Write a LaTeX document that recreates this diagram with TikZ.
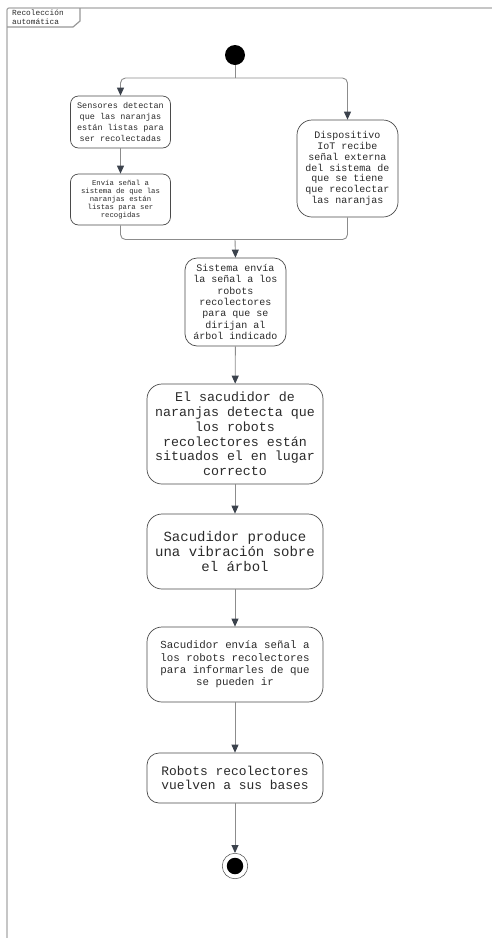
\documentclass[tikz,border=0pt]{standalone}
\usepackage{fontspec}
\newfontfamily\mono{Liberation Mono}
\usetikzlibrary{arrows.meta}
\definecolor{boxc}{HTML}{4A4A4A}
\definecolor{connc}{HTML}{8C8C8C}
\definecolor{tipc}{HTML}{3B424C}
\definecolor{framec}{HTML}{A8A8A8}
\definecolor{txtc}{HTML}{2A2A2A}
\newcommand{\fs}[2]{\fontsize{#1}{#2}\selectfont}
\tikzset{
  act/.style={draw=boxc, line width=0.7pt, rectangle, align=center, text=txtc,
    inner sep=0pt, font=\mono},
  conn/.style={draw=connc, line width=0.9pt},
  arr/.style={conn, -{Triangle[length=8pt,width=7pt,color=tipc]}},
  frameline/.style={draw=framec, line width=1.2pt},
}
\begin{document}
\begin{tikzpicture}[x=1pt,y=-1pt]
\useasboundingbox (0,0) rectangle (492,938);

% frame and its name tab
\draw[frameline, rounded corners=2pt] (492,8) -- (7,8) -- (7,938);
\draw[frameline, draw=framec!90!black] (7,27) -- (73,27) -- (80,21) -- (80,8);
\node[anchor=north west, inner sep=0pt, align=left, text=txtc, font=\mono\fs{7.8}{8.4}]
  (title) at (12,10) {Recolección\\automática};

% initial and final nodes
\node[circle, fill=black, minimum size=20pt, inner sep=0pt] (start) at (235,55) {};
\node[circle, draw=boxc, line width=0.5pt, minimum size=25.5pt, inner sep=0pt] (finish) at (235,866) {};
\node[circle, fill=black, minimum size=16.5pt, inner sep=0pt] (finishdot) at (235,866) {};

% actions
\node[act, rounded corners=8pt, minimum width=100pt, minimum height=52pt, font=\mono\fs{8.5}{10.7}]
  (b1) at (120.5,122) {Sensores detectan\\que las naranjas\\están listas para\\ser recolectadas};
\node[act, rounded corners=8pt, minimum width=100pt, minimum height=51pt, font=\mono\fs{7.3}{8.1}]
  (b2) at (120.5,199.5) {Envía señal a\\sistema de que las\\naranjas están\\listas para ser\\recogidas};
\node[act, rounded corners=15pt, minimum width=101pt, minimum height=97pt, font=\mono\fs{10}{10.8}]
  (disp) at (347.5,168.5) {Dispositivo\\IoT recibe\\señal externa\\del sistema de\\que se tiene\\que recolectar\\las naranjas};
\node[act, rounded corners=12pt, minimum width=101pt, minimum height=88pt, font=\mono\fs{10}{11.4}]
  (sist) at (235.5,302) {Sistema envía\\la señal a los\\robots\\recolectores\\para que se\\dirijan al\\árbol indicado};
\node[act, rounded corners=15pt, minimum width=176pt, minimum height=100pt, font=\mono\fs{13.3}{14.8}]
  (det) at (235,434) {El sacudidor de\\naranjas detecta que\\los robots\\recolectores están\\situados el en lugar\\correcto};
\node[act, rounded corners=15pt, minimum width=176pt, minimum height=75pt, font=\mono\fs{14}{15}]
  (prod) at (235,551.5) {Sacudidor produce\\una vibración sobre\\el árbol};
\node[act, rounded corners=15pt, minimum width=176pt, minimum height=75pt, font=\mono\fs{10.8}{12.4}]
  (env) at (235,664.5) {Sacudidor envía señal a\\los robots recolectores\\para informarles de que\\se pueden ir};
\node[act, rounded corners=12pt, minimum width=176pt, minimum height=50pt, font=\mono\fs{12.9}{14}]
  (rob) at (235,778) {Robots recolectores\\vuelven a sus bases};

% fork and join points
\coordinate (fork) at (235,78);
\coordinate (join) at (235,239.5);

% connectors
\draw[conn] (start) -- (fork);
\draw[arr, rounded corners=5pt] (fork) -| (b1.north);
\draw[arr, rounded corners=5pt] (fork) -| (disp.north);
\draw[arr] (b1) -- (b2);
\draw[conn, rounded corners=5pt] (b2.south) |- (join) -| (disp.south);
\draw[arr] (join) -- (sist.north);
\draw[arr] (sist) -- (det);
\draw[arr] (det) -- (prod);
\draw[arr] (prod) -- (env);
\draw[arr] (env) -- (rob);
\draw[arr] (rob) -- (finish);
\end{tikzpicture}
\end{document}
